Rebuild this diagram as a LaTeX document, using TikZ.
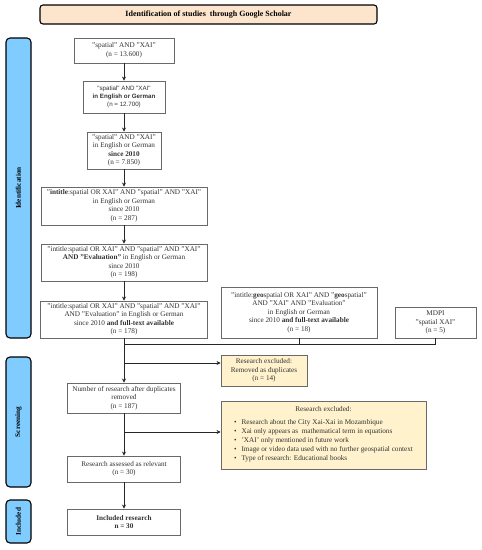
\documentclass[tikz,border=0pt]{standalone}
\usepackage{fontspec}
\setmainfont{Liberation Serif}
\newfontfamily\arialfont{Liberation Sans}
\usepackage{tikz}
\usetikzlibrary{arrows.meta,positioning,calc}
\definecolor{boxline}{RGB}{105,105,105}
\definecolor{txtgray}{RGB}{50,50,50}
\definecolor{phase}{RGB}{128,204,255}
\definecolor{header}{RGB}{252,228,205}
\definecolor{excl}{RGB}{255,242,204}
\tikzset{
  headbox/.style={draw=black, line width=1.1pt, rounded corners=3pt, fill=header, align=center,
    minimum width=337pt, minimum height=19pt, font=\fontsize{8}{9.5}\selectfont\bfseries},
  phasebar/.style={draw=black, line width=1.1pt, rounded corners=4pt, fill=phase, rotate=90,
    minimum height=25pt, inner sep=0pt, font=\fontsize{7.2}{8.5}\selectfont\bfseries},
  stepbox/.style={draw=boxline, line width=0.9pt, fill=white, align=center, text=txtgray,
    inner sep=1pt, font=\fontsize{7.2}{8.5}\selectfont},
  exclbox/.style={stepbox, fill=excl},
  % verbindungen
  flow/.style={draw=black!85, line width=0.8pt, -{Stealth[length=4pt,width=4pt]}},
  joinline/.style={draw=black!85, line width=0.8pt}
}
\begin{document}
\begin{tikzpicture}[x=1pt,y=-1pt]
  \useasboundingbox (0,0) rectangle (482,550);
  \node[headbox] (head) at (208.5,14.5) {Identification of studies\ \ through Google Scholar};

  % phasen
  \node[phasebar, minimum width=300pt] (ident) at (18.5,188)   {Identification};
  \node[phasebar, minimum width=130pt] (screen) at (18.5,422)  {Screening};
  \node[phasebar, minimum width=43pt]  (incl) at (18.5,521.5)  {Included};

  % suche
  \node[stepbox, minimum width=100pt, minimum height=25pt] (q1) at (124,50.5)
    {"spatial" AND "XAI"\\(n = 13.600)};
  \node[stepbox, minimum width=82pt, minimum height=32pt,
    font=\fontsize{6.2}{8}\arialfont] (q2) at (124,97)
    {"spatial" AND "XAI"\\\textbf{in English or German}\\(n = 12.700)};
  \node[stepbox, minimum width=74pt, minimum height=37pt] (q3) at (124,150.5)
    {"spatial" AND "XAI"\\in English or German\\\textbf{since 2010}\\(n = 7.850)};
  \node[stepbox, minimum width=166pt, minimum height=38pt] (q4) at (124,206)
    {"\textbf{intitle}:spatial OR XAI" AND "spatial" AND "XAI"\\in English or German\\since 2010\\(n = 287)};
  \node[stepbox, minimum width=166pt, minimum height=37pt] (q5) at (124,262.5)
    {"intitle:spatial OR XAI" AND "spatial" AND "XAI"\\\textbf{AND "Evaluation"} in English or German\\since 2010\\(n = 198)};
  \node[stepbox, minimum width=167pt, minimum height=37pt] (q6) at (124,319.5)
    {"intitle:spatial OR XAI" AND "spatial" AND "XAI"\\AND "Evaluation" in English or German\\since 2010 \textbf{and full-text available}\\(n = 178)};
  \node[stepbox, minimum width=156pt, minimum height=51pt] (geo) at (299,312.5)
    {"intitle:\textbf{geo}spatial OR XAI" AND "\textbf{geo}spatial"\\AND "XAI" AND "Evaluation"\\in English or German\\since 2010 \textbf{and full-text available}\\(n = 18)};
  \node[stepbox, minimum width=81pt, minimum height=31pt] (mdpi) at (435.5,322.5)
    {MDPI\\"spatial XAI"\\(n = 5)};

  % screening
  \node[exclbox, minimum width=86pt, minimum height=31pt] (dup) at (264,370.5)
    {Research excluded:\\Removed as duplicates\\(n = 14)};
  \node[stepbox, minimum width=113pt, minimum height=30pt] (nodup) at (124,398)
    {Number of research after duplicates\\removed\\(n = 187)};
  \node[exclbox, minimum width=205pt, minimum height=68pt, font=\fontsize{7.2}{9}\selectfont] (out) at (323.5,435)
    {Research excluded:\\[6pt]
     \begin{tabular}{@{}l@{\hspace{5pt}}l@{}}
       \textbullet & Research about the City Xai-Xai in Mozambique\\
       \textbullet & Xai only appears as\ \ mathematical term in equations\\
       \textbullet & 'XAI' only mentioned in future work\\
       \textbullet & Image or video data used with no further geospatial context\\
       \textbullet & Type of research: Educational books
     \end{tabular}};
  \node[stepbox, minimum width=113pt, minimum height=26pt] (rel) at (124,469)
    {Research assessed as relevant\\(n = 30)};
  \node[stepbox, minimum width=113pt, minimum height=26pt, font=\fontsize{7.2}{8.5}\selectfont\bfseries] (final) at (124,522)
    {Included research\\n = 30};

  % pfeile
  \draw[flow] (q1) -- (q2);
  \draw[flow] (q2) -- (q3);
  \draw[flow] (q3) -- (q4);
  \draw[flow] (q4) -- (q5);
  \draw[flow] (q5) -- (q6);
  \coordinate (jn) at (124,344);
  \draw[joinline] (q6.south) -- (jn);
  \draw[joinline] (geo.south) -- (geo.south |- jn);
  \draw[joinline] (mdpi.south) -- (mdpi.south |- jn);
  \draw[joinline] (jn) -- (mdpi.south |- jn);
  \draw[flow] (jn) -- (nodup.north);
  \coordinate (br1) at (124,363);
  \draw[flow] (br1) -- (br1 -| dup.west);
  \draw[flow] (nodup) -- (rel);
  \coordinate (br2) at (124,432);
  \draw[flow] (br2) -- (br2 -| out.west);
  \draw[flow] (rel) -- (final);
\end{tikzpicture}
\end{document}
